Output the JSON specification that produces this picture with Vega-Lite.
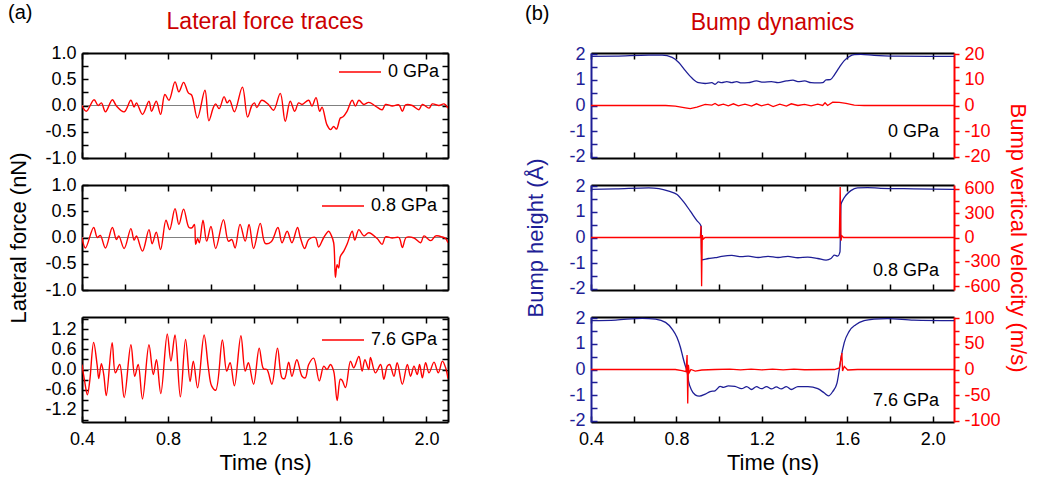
{
"$schema":"https://vega.github.io/schema/vega-lite/v6.json",
"padding":{"left":7,"top":3,"right":4,"bottom":2},
"config":{
 "font":"Liberation Sans",
 "view":{"stroke":null},
 "axis":{"domainColor":"black","domainWidth":2,"tickColor":"black","tickWidth":1.5,"tickSize":-6,"labelPadding":12,"labelFont":"Liberation Sans","labelFontSize":18,"labelColor":"black","titleFont":"Liberation Sans","titleFontSize":22,"titleFontWeight":"normal","titleColor":"black","grid":false,"labelFlush":false,"labelOverlap":false,"labelBound":false},
 "title":{"font":"Liberation Sans","fontWeight":"normal"},
 "legend":{"title":null,"symbolType":"stroke","symbolSize":1764,"symbolStrokeWidth":1.5,"labelFontSize":18,"labelFont":"Liberation Sans","labelColor":"black","padding":0,"labelOffset":6}
},
"datasets":{
"lf0":[{"t":0.4,"f":0},{"t":0.42,"f":-0.11},{"t":0.456,"f":0.11},{"t":0.475,"f":0},{"t":0.49,"f":0.05},{"t":0.509,"f":-0.12},{"t":0.541,"f":0.11},{"t":0.56,"f":-0.01},{"t":0.596,"f":-0.12},{"t":0.627,"f":0.1},{"t":0.642,"f":-0.03},{"t":0.653,"f":0.05},{"t":0.681,"f":-0.17},{"t":0.711,"f":0.08},{"t":0.723,"f":-0.11},{"t":0.745,"f":0.08},{"t":0.765,"f":-0.17},{"t":0.785,"f":0.21},{"t":0.804,"f":0.1},{"t":0.832,"f":0.45},{"t":0.85,"f":0.26},{"t":0.872,"f":0.44},{"t":0.894,"f":0.24},{"t":0.909,"f":0.2},{"t":0.936,"f":-0.24},{"t":0.971,"f":0.29},{"t":0.989,"f":-0.29},{"t":1.01,"f":-0.04},{"t":1.021,"f":0.03},{"t":1.037,"f":-0.06},{"t":1.06,"f":0.17},{"t":1.074,"f":0.05},{"t":1.086,"f":0.1},{"t":1.108,"f":-0.12},{"t":1.145,"f":0.35},{"t":1.169,"f":-0.22},{"t":1.189,"f":0},{"t":1.201,"f":0.05},{"t":1.212,"f":-0.04},{"t":1.235,"f":0.1},{"t":1.266,"f":0.02},{"t":1.29,"f":-0.09},{"t":1.321,"f":0.23},{"t":1.344,"f":-0.3},{"t":1.367,"f":0.08},{"t":1.388,"f":-0.11},{"t":1.406,"f":0.05},{"t":1.422,"f":0.02},{"t":1.453,"f":0.1},{"t":1.468,"f":-0.01},{"t":1.487,"f":0.15},{"t":1.504,"f":-0.11},{"t":1.515,"f":-0.03},{"t":1.538,"f":-0.37},{"t":1.554,"f":-0.46},{"t":1.569,"f":-0.4},{"t":1.582,"f":-0.45},{"t":1.6,"f":-0.24},{"t":1.611,"f":-0.22},{"t":1.631,"f":-0.11},{"t":1.655,"f":0.1},{"t":1.67,"f":-0.01},{"t":1.686,"f":0.1},{"t":1.709,"f":0.02},{"t":1.732,"f":0.06},{"t":1.763,"f":-0.01},{"t":1.794,"f":-0.08},{"t":1.81,"f":0.02},{"t":1.841,"f":-0.01},{"t":1.872,"f":0.01},{"t":1.888,"f":-0.11},{"t":1.903,"f":0.01},{"t":1.934,"f":0},{"t":1.965,"f":-0.08},{"t":1.981,"f":0.02},{"t":2.012,"f":-0.05},{"t":2.027,"f":0.03},{"t":2.058,"f":0},{"t":2.082,"f":0.03},{"t":2.1,"f":-0.05}],
"lf08":[{"t":0.4,"f":0},{"t":0.416,"f":-0.2},{"t":0.454,"f":0.19},{"t":0.471,"f":0},{"t":0.485,"f":0.04},{"t":0.509,"f":-0.2},{"t":0.541,"f":0.19},{"t":0.56,"f":-0.04},{"t":0.571,"f":0.03},{"t":0.596,"f":-0.21},{"t":0.627,"f":0.17},{"t":0.642,"f":-0.05},{"t":0.653,"f":0.03},{"t":0.681,"f":-0.26},{"t":0.711,"f":0.15},{"t":0.726,"f":-0.12},{"t":0.745,"f":0.1},{"t":0.765,"f":-0.23},{"t":0.79,"f":0.33},{"t":0.807,"f":0.15},{"t":0.832,"f":0.55},{"t":0.85,"f":0.25},{"t":0.872,"f":0.54},{"t":0.897,"f":0.19},{"t":0.912,"f":0.19},{"t":0.922,"f":0.25},{"t":0.928,"f":-0.13},{"t":0.937,"f":-0.02},{"t":0.945,"f":-0.1},{"t":0.962,"f":0.33},{"t":0.979,"f":-0.07},{"t":0.999,"f":0.21},{"t":1.021,"f":-0.21},{"t":1.057,"f":0.34},{"t":1.08,"f":-0.07},{"t":1.096,"f":-0.04},{"t":1.111,"f":-0.2},{"t":1.134,"f":0.25},{"t":1.158,"f":-0.07},{"t":1.176,"f":0.25},{"t":1.197,"f":-0.21},{"t":1.228,"f":0.27},{"t":1.251,"f":-0.11},{"t":1.279,"f":-0.08},{"t":1.31,"f":0.19},{"t":1.329,"f":-0.1},{"t":1.353,"f":0.12},{"t":1.375,"f":-0.1},{"t":1.401,"f":0.19},{"t":1.414,"f":0},{"t":1.434,"f":-0.21},{"t":1.453,"f":-0.04},{"t":1.484,"f":0},{"t":1.499,"f":-0.18},{"t":1.523,"f":0},{"t":1.546,"f":0.12},{"t":1.558,"f":0.04},{"t":1.569,"f":-0.1},{"t":1.577,"f":-0.76},{"t":1.585,"f":-0.52},{"t":1.592,"f":-0.58},{"t":1.6,"f":-0.36},{"t":1.616,"f":-0.26},{"t":1.631,"f":-0.13},{"t":1.655,"f":0.12},{"t":1.667,"f":-0.05},{"t":1.686,"f":0.15},{"t":1.709,"f":0.03},{"t":1.732,"f":0.09},{"t":1.771,"f":-0.02},{"t":1.794,"f":-0.13},{"t":1.81,"f":0.01},{"t":1.841,"f":-0.01},{"t":1.872,"f":0},{"t":1.888,"f":-0.19},{"t":1.906,"f":0},{"t":1.942,"f":-0.01},{"t":1.973,"f":-0.1},{"t":1.988,"f":0.03},{"t":2.02,"f":-0.06},{"t":2.043,"f":0.03},{"t":2.074,"f":0.01},{"t":2.089,"f":-0.02},{"t":2.1,"f":-0.1}],
"lf76":[{"t":0.4,"f":0.15},{"t":0.412,"f":-0.34},{"t":0.425,"f":-0.76},{"t":0.436,"f":-0.34},{"t":0.454,"f":0.81},{"t":0.47,"f":0.15},{"t":0.478,"f":-0.27},{"t":0.49,"f":0.17},{"t":0.501,"f":-0.15},{"t":0.513,"f":-0.78},{"t":0.54,"f":0.8},{"t":0.555,"f":-0.1},{"t":0.575,"f":0.15},{"t":0.596,"f":-0.84},{"t":0.627,"f":0.74},{"t":0.645,"f":-0.2},{"t":0.661,"f":0.15},{"t":0.681,"f":-0.88},{"t":0.711,"f":0.74},{"t":0.731,"f":-0.15},{"t":0.746,"f":0.29},{"t":0.766,"f":-0.72},{"t":0.796,"f":1.06},{"t":0.813,"f":0.25},{"t":0.832,"f":1.03},{"t":0.857,"f":-0.82},{"t":0.881,"f":0.9},{"t":0.902,"f":-0.36},{"t":0.917,"f":0.25},{"t":0.937,"f":-0.55},{"t":0.967,"f":1.03},{"t":0.987,"f":0.05},{"t":1.002,"f":-0.49},{"t":1.021,"f":-0.62},{"t":1.052,"f":0.88},{"t":1.072,"f":-0.05},{"t":1.088,"f":0.2},{"t":1.108,"f":-0.49},{"t":1.138,"f":1.01},{"t":1.158,"f":-0.05},{"t":1.173,"f":0.2},{"t":1.197,"f":-0.44},{"t":1.223,"f":0.64},{"t":1.243,"f":0.02},{"t":1.259,"f":0},{"t":1.282,"f":-0.44},{"t":1.308,"f":0.64},{"t":1.329,"f":-0.25},{"t":1.341,"f":-0.27},{"t":1.36,"f":0.22},{"t":1.375,"f":-0.2},{"t":1.398,"f":0.29},{"t":1.422,"f":-0.2},{"t":1.437,"f":-0.25},{"t":1.453,"f":0.15},{"t":1.476,"f":0.34},{"t":1.502,"f":-0.34},{"t":1.523,"f":0.1},{"t":1.538,"f":0},{"t":1.554,"f":0.15},{"t":1.569,"f":-0.05},{"t":1.585,"f":-0.93},{"t":1.6,"f":-0.29},{"t":1.608,"f":-0.32},{"t":1.624,"f":-0.54},{"t":1.647,"f":0.25},{"t":1.662,"f":0.05},{"t":1.686,"f":0.39},{"t":1.701,"f":-0.05},{"t":1.714,"f":0.29},{"t":1.732,"f":0},{"t":1.74,"f":0.36},{"t":1.763,"f":-0.1},{"t":1.787,"f":0.15},{"t":1.802,"f":-0.29},{"t":1.818,"f":0.1},{"t":1.829,"f":0.15},{"t":1.849,"f":-0.2},{"t":1.864,"f":0.2},{"t":1.888,"f":-0.44},{"t":1.911,"f":0.15},{"t":1.926,"f":-0.2},{"t":1.942,"f":0.1},{"t":1.957,"f":-0.15},{"t":1.968,"f":0.15},{"t":1.981,"f":-0.25},{"t":1.996,"f":0.2},{"t":2.012,"f":-0.1},{"t":2.035,"f":0.22},{"t":2.055,"f":-0.1},{"t":2.074,"f":0.25},{"t":2.089,"f":0.05},{"t":2.1,"f":-0.27}],
"h0":[{"t":0.4,"h":1.92},{"t":0.516,"h":1.93},{"t":0.671,"h":1.97},{"t":0.733,"h":1.97},{"t":0.78,"h":1.88},{"t":0.811,"h":1.68},{"t":0.842,"h":1.36},{"t":0.873,"h":1.07},{"t":0.904,"h":0.89},{"t":0.935,"h":0.86},{"t":0.966,"h":0.89},{"t":0.981,"h":0.83},{"t":0.997,"h":0.92},{"t":1.012,"h":0.89},{"t":1.036,"h":0.93},{"t":1.059,"h":0.89},{"t":1.082,"h":0.93},{"t":1.105,"h":0.88},{"t":1.136,"h":0.89},{"t":1.175,"h":0.96},{"t":1.206,"h":0.91},{"t":1.245,"h":0.93},{"t":1.276,"h":0.89},{"t":1.315,"h":0.96},{"t":1.346,"h":0.99},{"t":1.369,"h":0.93},{"t":1.4,"h":0.96},{"t":1.431,"h":0.89},{"t":1.462,"h":0.88},{"t":1.485,"h":0.89},{"t":1.501,"h":1},{"t":1.521,"h":1.01},{"t":1.54,"h":1.2},{"t":1.563,"h":1.49},{"t":1.586,"h":1.75},{"t":1.609,"h":1.91},{"t":1.633,"h":1.99},{"t":1.664,"h":2},{"t":1.726,"h":1.96},{"t":1.834,"h":1.93},{"t":1.989,"h":1.92},{"t":2.1,"h":1.92}],
"v0":[{"t":0.4,"v":0},{"t":0.749,"v":0},{"t":0.795,"v":-0.26},{"t":0.842,"v":-0.9},{"t":0.865,"v":-1.2},{"t":0.896,"v":-0.66},{"t":0.935,"v":0.4},{"t":0.966,"v":0.13},{"t":0.981,"v":0.8},{"t":0.997,"v":0},{"t":1.02,"v":0.5},{"t":1.043,"v":-0.13},{"t":1.067,"v":0.66},{"t":1.09,"v":-0.13},{"t":1.121,"v":0.5},{"t":1.152,"v":-0.26},{"t":1.175,"v":0.66},{"t":1.198,"v":-0.13},{"t":1.229,"v":0.5},{"t":1.253,"v":-0.4},{"t":1.284,"v":0.5},{"t":1.315,"v":-0.26},{"t":1.338,"v":0.66},{"t":1.369,"v":0},{"t":1.4,"v":0.4},{"t":1.431,"v":-0.13},{"t":1.462,"v":0.5},{"t":1.485,"v":0},{"t":1.496,"v":1.05},{"t":1.508,"v":0},{"t":1.532,"v":1.3},{"t":1.563,"v":1.2},{"t":1.594,"v":0.8},{"t":1.633,"v":0.13},{"t":1.679,"v":0},{"t":2.1,"v":0}],
"h08":[{"t":0.4,"h":1.88},{"t":0.516,"h":1.9},{"t":0.671,"h":1.94},{"t":0.718,"h":1.91},{"t":0.764,"h":1.81},{"t":0.803,"h":1.68},{"t":0.834,"h":1.39},{"t":0.865,"h":1.03},{"t":0.896,"h":0.66},{"t":0.916,"h":0.44},{"t":0.918,"h":-0.87},{"t":0.95,"h":-0.82},{"t":0.981,"h":-0.79},{"t":1.012,"h":-0.74},{"t":1.059,"h":-0.7},{"t":1.105,"h":-0.75},{"t":1.136,"h":-0.73},{"t":1.183,"h":-0.78},{"t":1.229,"h":-0.74},{"t":1.276,"h":-0.78},{"t":1.322,"h":-0.74},{"t":1.369,"h":-0.79},{"t":1.415,"h":-0.77},{"t":1.462,"h":-0.82},{"t":1.501,"h":-0.88},{"t":1.524,"h":-0.82},{"t":1.54,"h":-0.69},{"t":1.555,"h":-0.73},{"t":1.566,"h":-0.56},{"t":1.571,"h":1.29},{"t":1.578,"h":1.44},{"t":1.594,"h":1.65},{"t":1.617,"h":1.83},{"t":1.648,"h":1.94},{"t":1.695,"h":1.95},{"t":1.757,"h":1.92},{"t":1.912,"h":1.9},{"t":2.1,"h":1.88}],
"v08":[{"t":0.4,"v":0},{"t":0.912,"v":0},{"t":0.915,"v":140},{"t":0.918,"v":-600},{"t":0.921,"v":30},{"t":0.926,"v":-20},{"t":0.934,"v":0},{"t":1.563,"v":0},{"t":1.567,"v":620},{"t":1.571,"v":-40},{"t":1.575,"v":20},{"t":1.583,"v":0},{"t":2.1,"v":0}],
"h76":[{"t":0.4,"h":1.91},{"t":0.516,"h":1.93},{"t":0.64,"h":2},{"t":0.702,"h":1.97},{"t":0.749,"h":1.84},{"t":0.78,"h":1.58},{"t":0.803,"h":1.25},{"t":0.819,"h":0.86},{"t":0.831,"h":0.46},{"t":0.842,"h":0.13},{"t":0.85,"h":-0.07},{"t":0.857,"h":-0.46},{"t":0.87,"h":-0.79},{"t":0.888,"h":-0.99},{"t":0.907,"h":-1.04},{"t":0.935,"h":-0.96},{"t":0.958,"h":-0.86},{"t":0.981,"h":-0.83},{"t":1.005,"h":-0.66},{"t":1.02,"h":-0.7},{"t":1.043,"h":-0.64},{"t":1.074,"h":-0.66},{"t":1.105,"h":-0.75},{"t":1.129,"h":-0.67},{"t":1.152,"h":-0.78},{"t":1.175,"h":-0.67},{"t":1.198,"h":-0.75},{"t":1.222,"h":-0.67},{"t":1.245,"h":-0.76},{"t":1.268,"h":-0.68},{"t":1.291,"h":-0.76},{"t":1.315,"h":-0.67},{"t":1.338,"h":-0.78},{"t":1.369,"h":-0.67},{"t":1.416,"h":-0.67},{"t":1.462,"h":-0.75},{"t":1.493,"h":-0.92},{"t":1.512,"h":-1.03},{"t":1.532,"h":-0.86},{"t":1.552,"h":-0.53},{"t":1.563,"h":0},{"t":1.571,"h":0.46},{"t":1.586,"h":1.05},{"t":1.609,"h":1.49},{"t":1.64,"h":1.75},{"t":1.679,"h":1.91},{"t":1.726,"h":1.97},{"t":1.788,"h":1.99},{"t":1.912,"h":1.93},{"t":2.1,"h":1.91}],
"v76":[{"t":0.4,"v":0},{"t":0.795,"v":0},{"t":0.826,"v":-2},{"t":0.845,"v":-4},{"t":0.85,"v":28},{"t":0.853,"v":-66},{"t":0.856,"v":9},{"t":0.86,"v":-6},{"t":0.868,"v":0},{"t":0.888,"v":-3},{"t":0.919,"v":-1},{"t":0.981,"v":0},{"t":1.05,"v":0.8},{"t":1.1,"v":-0.8},{"t":1.15,"v":0.8},{"t":1.2,"v":-0.8},{"t":1.25,"v":0.8},{"t":1.3,"v":-0.8},{"t":1.35,"v":0.8},{"t":1.4,"v":-0.5},{"t":1.54,"v":0},{"t":1.563,"v":3},{"t":1.575,"v":32},{"t":1.578,"v":-3},{"t":1.586,"v":6},{"t":1.602,"v":-1},{"t":1.648,"v":0},{"t":2.1,"v":0}]
},
"resolve":{"scale":{"color":"independent"},"legend":{"color":"independent"}},
"spacing":75,
"hconcat":[
{
 "title":{"text":"(a)","anchor":"start","fontSize":20,"color":"black","offset":-12},
 "spacing":27,
 "bounds":"flush",
 "resolve":{"scale":{"color":"independent"},"legend":{"color":"independent"}},
 "vconcat":[
  {
   "width":366,"height":105,
   "title":{"text":"Lateral force traces","color":"#cc0000","fontSize":23,"offset":10},
   "layer":[
    {"data":{"values":[{}]},"mark":{"type":"rule","color":"#808080","strokeWidth":1},
     "encoding":{"x":{"datum":0.4,"type":"quantitative","scale":{"domain":[0.4,2.1],"nice":false},"axis":{"orient":"top","values":[0.4,0.6,0.8,1.0,1.2,1.4,1.6,1.8,2.0],"labels":false,"title":null}},
      "x2":{"datum":2.1},
      "y":{"datum":0,"type":"quantitative","scale":{"domain":[-1,1],"nice":false},"axis":{"orient":"right","values":[-1,-0.75,-0.5,-0.25,0,0.25,0.5,0.75,1],"labels":false,"title":null}}}},
    {"data":{"name":"lf0"},"mark":{"type":"line","interpolate":"catmull-rom","strokeWidth":1.4,"clip":true},
     "encoding":{"x":{"field":"t","type":"quantitative","scale":{"domain":[0.4,2.1],"nice":false},"axis":{"orient":"bottom","values":[0.4,0.6,0.8,1.0,1.2,1.4,1.6,1.8,2.0],"labels":false,"title":null}},
      "y":{"field":"f","type":"quantitative","scale":{"domain":[-1,1],"nice":false},"axis":{"orient":"left","values":[-1,-0.75,-0.5,-0.25,0,0.25,0.5,0.75,1],"labelExpr":"round(datum.value*4)%2==0 ? replace(format(datum.value,'.1f'),'−','-') : ''","title":null}},
      "color":{"datum":"0 GPa","type":"nominal","scale":{"domain":["0 GPa"],"range":["#ff0000"]},"legend":{"orient":"none","legendX":256,"legendY":-3}}}}
   ]
  },
  {
   "width":366,"height":105,
   "layer":[
    {"data":{"values":[{}]},"mark":{"type":"rule","color":"#808080","strokeWidth":1},
     "encoding":{"x":{"datum":0.4,"type":"quantitative","scale":{"domain":[0.4,2.1],"nice":false},"axis":{"orient":"top","values":[0.4,0.6,0.8,1.0,1.2,1.4,1.6,1.8,2.0],"labels":false,"title":null}},
      "x2":{"datum":2.1},
      "y":{"datum":0,"type":"quantitative","scale":{"domain":[-1,1],"nice":false},"axis":{"orient":"right","values":[-1,-0.75,-0.5,-0.25,0,0.25,0.5,0.75,1],"labels":false,"title":null}}}},
    {"data":{"name":"lf08"},"mark":{"type":"line","interpolate":"catmull-rom","strokeWidth":1.4,"clip":true},
     "encoding":{"x":{"field":"t","type":"quantitative","scale":{"domain":[0.4,2.1],"nice":false},"axis":{"orient":"bottom","values":[0.4,0.6,0.8,1.0,1.2,1.4,1.6,1.8,2.0],"labels":false,"title":null}},
      "y":{"field":"f","type":"quantitative","scale":{"domain":[-1,1],"nice":false},"axis":{"orient":"left","values":[-1,-0.75,-0.5,-0.25,0,0.25,0.5,0.75,1],"labelExpr":"round(datum.value*4)%2==0 ? replace(format(datum.value,'.1f'),'−','-') : ''","title":"Lateral force (nN)","titlePadding":14}},
      "color":{"datum":"0.8 GPa","type":"nominal","scale":{"domain":["0.8 GPa"],"range":["#ff0000"]},"legend":{"orient":"none","legendX":239,"legendY":-1}}}}
   ]
  },
  {
   "width":366,"height":105,
   "layer":[
    {"data":{"values":[{}]},"mark":{"type":"rule","color":"#808080","strokeWidth":1},
     "encoding":{"x":{"datum":0.4,"type":"quantitative","scale":{"domain":[0.4,2.1],"nice":false},"axis":{"orient":"top","values":[0.4,0.6,0.8,1.0,1.2,1.4,1.6,1.8,2.0],"labels":false,"title":null}},
      "x2":{"datum":2.1},
      "y":{"datum":0,"type":"quantitative","scale":{"domain":[-1.57,1.57],"nice":false},"axis":{"orient":"right","values":[-1.5,-1.2,-0.9,-0.6,-0.3,0,0.3,0.6,0.9,1.2,1.5],"labels":false,"title":null}}}},
    {"data":{"name":"lf76"},"mark":{"type":"line","interpolate":"catmull-rom","strokeWidth":1.4,"clip":true},
     "encoding":{"x":{"field":"t","type":"quantitative","scale":{"domain":[0.4,2.1],"nice":false},"axis":{"orient":"bottom","values":[0.4,0.6,0.8,1.0,1.2,1.4,1.6,1.8,2.0],"labelExpr":"round(datum.value*10)%4==0 ? format(datum.value,'.1f') : ''","labelPadding":14,"title":"Time (ns)","titlePadding":4}},
      "y":{"field":"f","type":"quantitative","scale":{"domain":[-1.57,1.57],"nice":false},"axis":{"orient":"left","values":[-1.5,-1.2,-0.9,-0.6,-0.3,0,0.3,0.6,0.9,1.2,1.5],"labelExpr":"round(datum.value*10)%6==0 ? replace(format(datum.value,'.1f'),'−','-') : ''","title":null}},
      "color":{"datum":"7.6 GPa","type":"nominal","scale":{"domain":["7.6 GPa"],"range":["#ff0000"]},"legend":{"orient":"none","legendX":239,"legendY":1}}}}
   ]
  }
 ]
},
{
 "title":{"text":"(b)","anchor":"start","fontSize":20,"color":"black","offset":-12},
 "spacing":27,
 "bounds":"flush",
 "vconcat":[
  {
   "width":363,"height":105,
   "title":{"text":"Bump dynamics","color":"#cc0000","fontSize":23,"offset":10},
   "resolve":{"scale":{"y":"independent"}},
   "layer":[
    {"data":{"name":"h0"},"mark":{"type":"line","color":"#1e1e96","strokeWidth":1.3,"interpolate":"monotone","clip":true},
     "encoding":{"x":{"field":"t","type":"quantitative","scale":{"domain":[0.4,2.1],"nice":false},"axis":{"orient":"bottom","values":[0.4,0.6,0.8,1.0,1.2,1.4,1.6,1.8,2.0],"labels":false,"title":null}},
      "y":{"field":"h","type":"quantitative","scale":{"domain":[-2.05,2.05],"nice":false},"axis":{"orient":"left","values":[-2,-1.5,-1,-0.5,0,0.5,1,1.5,2],"labelExpr":"round(datum.value*2)%2==0 ? replace(format(datum.value,'d'),'−','-') : ''","title":null,"domainColor":"#1e1e96","tickColor":"#1e1e96","labelColor":"#1e1e96"}}}},
    {"data":{"name":"v0"},"mark":{"type":"line","color":"#ff0000","strokeWidth":1.3,"clip":true},
     "encoding":{"x":{"field":"t","type":"quantitative","scale":{"domain":[0.4,2.1],"nice":false},"axis":{"orient":"top","values":[0.4,0.6,0.8,1.0,1.2,1.4,1.6,1.8,2.0],"labels":false,"title":null}},
      "y":{"field":"v","type":"quantitative","scale":{"domain":[-20.5,20.5],"nice":false},"axis":{"orient":"right","values":[-20,-15,-10,-5,0,5,10,15,20],"labelExpr":"datum.value%10==0 ? replace(format(datum.value,'d'),'−','-') : ''","title":null,"domainColor":"#ff0000","tickColor":"#ff0000","labelColor":"#ff0000","tickSize":5,"labelPadding":5}}}},
    {"data":{"values":[{"label":"0 GPa"}]},"mark":{"type":"text","align":"right","baseline":"middle","fontSize":18,"color":"black"},
     "encoding":{"text":{"field":"label"},"x":{"datum":2.03,"type":"quantitative","axis":null},"y":{"datum":-1.05,"type":"quantitative","scale":{"domain":[-2.05,2.05],"nice":false},"axis":null}}}
   ]
  },
  {
   "width":363,"height":105,
   "resolve":{"scale":{"y":"independent"}},
   "layer":[
    {"data":{"name":"h08"},"mark":{"type":"line","color":"#1e1e96","strokeWidth":1.3,"interpolate":"monotone","clip":true},
     "encoding":{"x":{"field":"t","type":"quantitative","scale":{"domain":[0.4,2.1],"nice":false},"axis":{"orient":"bottom","values":[0.4,0.6,0.8,1.0,1.2,1.4,1.6,1.8,2.0],"labels":false,"title":null}},
      "y":{"field":"h","type":"quantitative","scale":{"domain":[-2.05,2.05],"nice":false},"axis":{"orient":"left","values":[-2,-1.5,-1,-0.5,0,0.5,1,1.5,2],"labelExpr":"round(datum.value*2)%2==0 ? replace(format(datum.value,'d'),'−','-') : ''","title":"Bump height (Å)","titlePadding":21,"titleColor":"#1e1e96","domainColor":"#1e1e96","tickColor":"#1e1e96","labelColor":"#1e1e96"}}}},
    {"data":{"name":"v08"},"mark":{"type":"line","color":"#ff0000","strokeWidth":1.3,"clip":true},
     "encoding":{"x":{"field":"t","type":"quantitative","scale":{"domain":[0.4,2.1],"nice":false},"axis":{"orient":"top","values":[0.4,0.6,0.8,1.0,1.2,1.4,1.6,1.8,2.0],"labels":false,"title":null}},
      "y":{"field":"v","type":"quantitative","scale":{"domain":[-645,645],"nice":false},"axis":{"orient":"right","values":[-600,-450,-300,-150,0,150,300,450,600],"labelExpr":"datum.value%300==0 ? replace(format(datum.value,'d'),'−','-') : ''","title":"Bump vertical velocity (m/s)","titlePadding":5,"titleColor":"#ff0000","domainColor":"#ff0000","tickColor":"#ff0000","labelColor":"#ff0000","tickSize":5,"labelPadding":5}}}},
    {"data":{"values":[{"label":"0.8 GPa"}]},"mark":{"type":"text","align":"right","baseline":"middle","fontSize":18,"color":"black"},
     "encoding":{"text":{"field":"label"},"x":{"datum":2.03,"type":"quantitative","axis":null},"y":{"datum":-1.3,"type":"quantitative","scale":{"domain":[-2.05,2.05],"nice":false},"axis":null}}}
   ]
  },
  {
   "width":363,"height":105,
   "resolve":{"scale":{"y":"independent"}},
   "layer":[
    {"data":{"name":"h76"},"mark":{"type":"line","color":"#1e1e96","strokeWidth":1.3,"interpolate":"monotone","clip":true},
     "encoding":{"x":{"field":"t","type":"quantitative","scale":{"domain":[0.4,2.1],"nice":false},"axis":{"orient":"bottom","values":[0.4,0.6,0.8,1.0,1.2,1.4,1.6,1.8,2.0],"labelExpr":"round(datum.value*10)%4==0 ? format(datum.value,'.1f') : ''","labelPadding":14,"title":"Time (ns)","titlePadding":4}},
      "y":{"field":"h","type":"quantitative","scale":{"domain":[-2.05,2.05],"nice":false},"axis":{"orient":"left","values":[-2,-1.5,-1,-0.5,0,0.5,1,1.5,2],"labelExpr":"round(datum.value*2)%2==0 ? replace(format(datum.value,'d'),'−','-') : ''","title":null,"domainColor":"#1e1e96","tickColor":"#1e1e96","labelColor":"#1e1e96"}}}},
    {"data":{"name":"v76"},"mark":{"type":"line","color":"#ff0000","strokeWidth":1.3,"clip":true},
     "encoding":{"x":{"field":"t","type":"quantitative","scale":{"domain":[0.4,2.1],"nice":false},"axis":{"orient":"top","values":[0.4,0.6,0.8,1.0,1.2,1.4,1.6,1.8,2.0],"labels":false,"title":null}},
      "y":{"field":"v","type":"quantitative","scale":{"domain":[-102,102],"nice":false},"axis":{"orient":"right","values":[-100,-75,-50,-25,0,25,50,75,100],"labelExpr":"datum.value%50==0 ? replace(format(datum.value,'d'),'−','-') : ''","title":null,"domainColor":"#ff0000","tickColor":"#ff0000","labelColor":"#ff0000","tickSize":5,"labelPadding":5}}}},
    {"data":{"values":[{"label":"7.6 GPa"}]},"mark":{"type":"text","align":"right","baseline":"middle","fontSize":18,"color":"black"},
     "encoding":{"text":{"field":"label"},"x":{"datum":2.03,"type":"quantitative","axis":null},"y":{"datum":-1.22,"type":"quantitative","scale":{"domain":[-2.05,2.05],"nice":false},"axis":null}}}
   ]
  }
 ]
}
]
}
